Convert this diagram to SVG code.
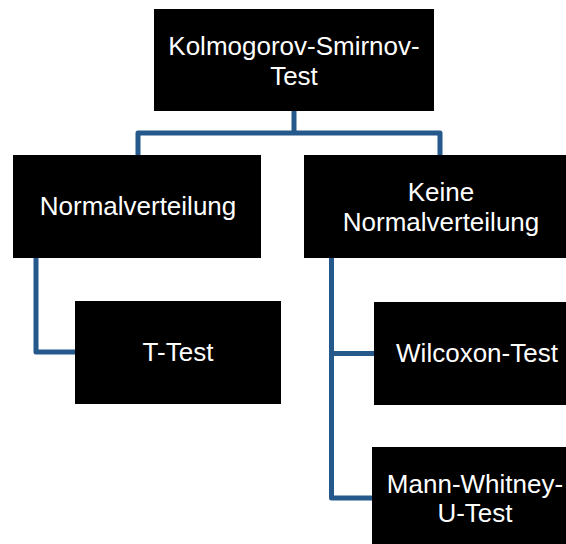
<svg xmlns="http://www.w3.org/2000/svg" width="566" height="544" viewBox="0 0 566 544">
  <style>
    .box { fill: #000000; }
    .label { font-family: "Liberation Sans", Arial, sans-serif; font-size: 26px; fill: #ffffff; text-anchor: middle; }
    .link { fill: none; stroke: #25588B; stroke-width: 5; stroke-linejoin: round; stroke-linecap: butt; }
  </style>
  <rect width="566" height="544" fill="#ffffff"/>

  <!-- connectors -->
  <g id="connectors">
    <path class="link" d="M294 111 V133"/>
    <path class="link" d="M138 155 V133 H440 V155"/>
    <path class="link" d="M36 257 V352 H75"/>
    <path class="link" d="M331.5 257 V498 H372"/>
    <path class="link" d="M331.5 353.5 H374"/>
  </g>

  <g id="kolmogorov-smirnov">
    <rect class="box" x="154" y="9" width="280" height="102"/>
    <text class="label" x="294" y="55">Kolmogorov-Smirnov-</text>
    <text class="label" x="294" y="85">Test</text>
  </g>

  <g id="normalverteilung">
    <rect class="box" x="13" y="155" width="248" height="103"/>
    <text class="label" x="138" y="215">Normalverteilung</text>
  </g>

  <g id="keine-normalverteilung">
    <rect class="box" x="304" y="155" width="274" height="103"/>
    <text class="label" x="441" y="201">Keine</text>
    <text class="label" x="441" y="231">Normalverteilung</text>
  </g>

  <g id="t-test">
    <rect class="box" x="75" y="301" width="206" height="103"/>
    <text class="label" x="178" y="361">T-Test</text>
  </g>

  <g id="wilcoxon-test">
    <rect class="box" x="374" y="302" width="206" height="103"/>
    <text class="label" x="477" y="362">Wilcoxon-Test</text>
  </g>

  <g id="mann-whitney-u-test">
    <rect class="box" x="372" y="447" width="206" height="103"/>
    <text class="label" x="475" y="493">Mann-Whitney-</text>
    <text class="label" x="475" y="522">U-Test</text>
  </g>
</svg>
